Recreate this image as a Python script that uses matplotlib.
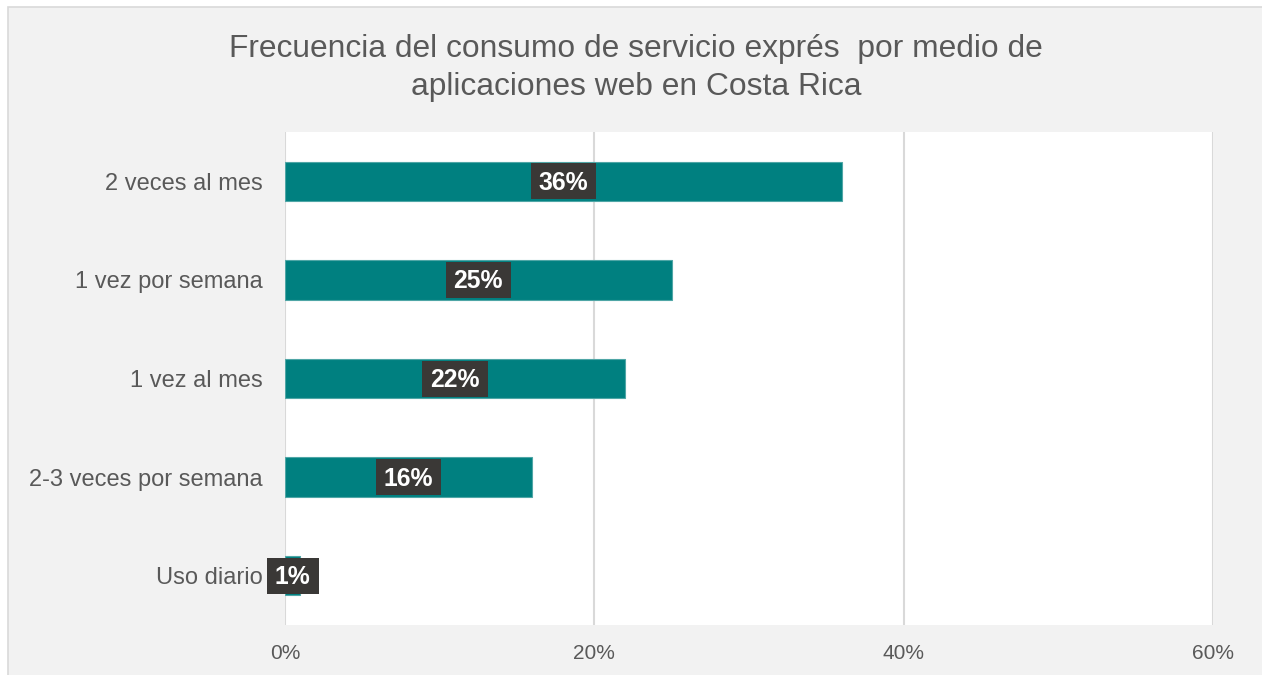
import matplotlib
matplotlib.use("Agg")
import matplotlib.pyplot as plt
from matplotlib.patches import Rectangle

# datos
categorias = ['2 veces al mes', '1 vez por semana', '1 vez al mes',
              '2-3 veces por semana', 'Uso diario']
porcentajes = [36, 25, 22, 16, 1]
ticks_x = [0, 20, 40, 60]
titulo = 'Frecuencia del consumo de servicio exprés  por medio de\naplicaciones web en Costa Rica'

plt.rcParams['font.family'] = ['Liberation Sans', 'DejaVu Sans']

W, H = 1262, 675
fig = plt.figure(figsize=(W / 100, H / 100), dpi=100)
fig.patch.set_facecolor('white')

# fondo gris con borde, detras de todo
fondo = fig.add_axes([0, 0, 1, 1], zorder=-1)
fondo.set_axis_off()
fondo.set_xlim(0, W)
fondo.set_ylim(0, H)
fondo.add_patch(Rectangle((8, -5), W, H - 7 + 5, facecolor='#f2f2f2',
                          edgecolor='#d9d9d9', linewidth=1.2))

ax = fig.add_axes([285 / W, 50 / H, (1213 - 285) / W, 493 / H], zorder=1)
ax.set_facecolor('white')

y = list(range(len(categorias)))
ax.barh(y, porcentajes, height=0.40, color='#008080',
        edgecolor='#4fa6a6', linewidth=0.8, zorder=3)

ax.set_xlim(0, 60)
ax.set_ylim(len(categorias) - 0.5, -0.5)
ax.set_xticks(ticks_x)
ax.set_xticklabels([f'{t}%' for t in ticks_x])
ax.set_yticks(y)
ax.set_yticklabels(categorias)
ax.tick_params(axis='x', length=0, pad=14, labelsize=15, labelcolor='#595959')
ax.tick_params(axis='y', length=0, pad=16, labelsize=17, labelcolor='#595959')

ax.grid(axis='x', color='#d9d9d9', linewidth=1.5, zorder=1)
ax.set_axisbelow(True)
for s in ax.spines.values():
    s.set_visible(False)

# etiquetas de valor sobre caja oscura
etiquetas = []
for yi, v in zip(y, porcentajes):
    t = ax.text(v / 2, yi + 0.015, f'{v}%', ha='center', va='center',
                color='white', fontsize=17.8, fontweight='bold', zorder=6)
    etiquetas.append(t)

fig.canvas.draw()
r = fig.canvas.get_renderer()
px_x = ax.bbox.width / 60
px_y = ax.bbox.height / len(categorias)
for t, yi, v in zip(etiquetas, y, porcentajes):
    ancho = (t.get_window_extent(r).width + 16) / px_x
    alto = 36 / px_y
    ax.add_patch(Rectangle((v / 2 - ancho / 2, yi - alto / 2), ancho, alto,
                           facecolor='#3a3836', edgecolor='none', zorder=5,
                           clip_on=False))

fig.text(636 / W, (H - 68) / H, titulo, ha='center', va='center',
         fontsize=22.9, color='#595959', linespacing=1.31)

fig.savefig('out.png', dpi=100, facecolor=fig.get_facecolor())
